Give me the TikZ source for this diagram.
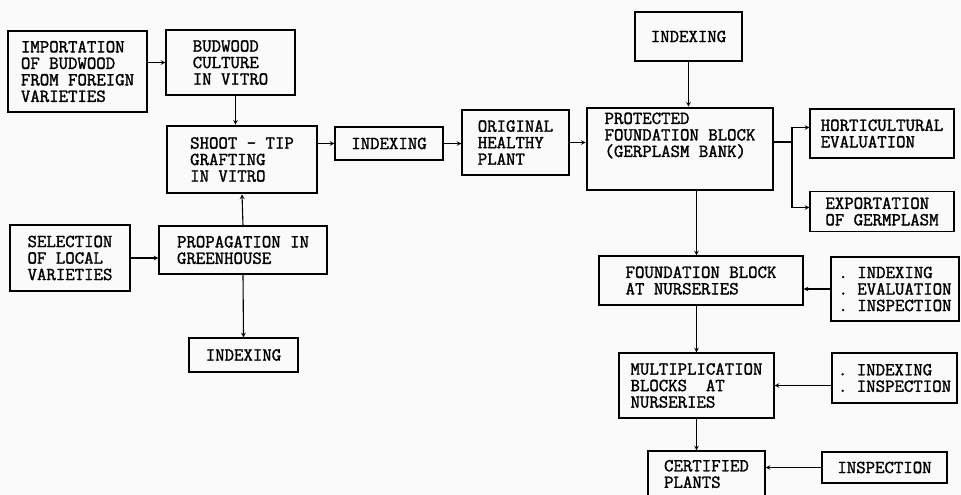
\documentclass[tikz,border=0pt]{standalone}
\usepackage{fontspec}
\setmonofont{Latin Modern Mono}[AutoFakeBold=1.6]
\usepackage{xcolor}

\begin{document}
\begin{tikzpicture}[->,>=stealth,x=1pt,y=-1pt,line width=1.1pt,
    box/.style={draw,align=left,inner sep=0pt,font=\ttfamily\bfseries\fontsize{18.3}{16.5}\selectfont},
    main box/.style={box,line width=2.6pt}]
            \fill[gray!4] (0,0) rectangle (961,495);
            \useasboundingbox (0,0) rectangle (961,495);

            % left part
            \node[box,minimum width=139,minimum height=81] (1) at (77.5,71.5) {IMPORTATION\\OF BUDWOOD\\FROM FOREIGN\\VARIETIES};
            \node[box,minimum width=129,minimum height=65] (2) at (230.5,62.5) {BUDWOOD\\CULTURE\\IN VITRO};
            \node[main box,minimum width=150,minimum height=67] (3) at (242,159.5) {SHOOT - TIP\\GRAFTING\\IN VITRO};
            \node[box,minimum width=120,minimum height=66] (4) at (70,258) {SELECTION\\OF LOCAL\\VARIETIES};
            \node[box,minimum width=168,minimum height=48] (5) at (243,250) {PROPAGATION IN\\GREENHOUSE};
            \node[box,minimum width=109,minimum height=34] (6) at (243.5,355) {INDEXING};

            % middle row
            \node[box,minimum width=108,minimum height=33] (7) at (389,143.5) {INDEXING};
            \node[box,minimum width=107,minimum height=65] (8) at (515.5,142.5) {ORIGINAL\\HEALTHY\\PLANT};
            \node[main box,minimum width=186,minimum height=82] (9) at (680,149) {PROTECTED\\FOUNDATION BLOCK\\(GERPLASM BANK)\\[12pt]};
            \node[box,minimum width=107,minimum height=49] (10) at (688.5,36.5) {INDEXING};
            \node[box,minimum width=144,minimum height=49] (11) at (882,133.5) {HORTICULTURAL\\EVALUATION};
            \node[box,minimum width=144,minimum height=40] (12) at (882,211.5) {EXPORTATION\\OF GERMPLASM};

            % nurseries
            \node[box,minimum width=204,minimum height=49] (13) at (701,280.5) {FOUNDATION BLOCK\\AT NURSERIES};
            \node[box,minimum width=128,minimum height=64] (14) at (895,289) {. INDEXING\\. EVALUATION\\. INSPECTION};
            \node[box,minimum width=155,minimum height=65] (15) at (696.5,385.5) {MULTIPLICATION\\BLOCKS~~AT\\NURSERIES};
            \node[box,minimum width=125,minimum height=50] (16) at (894.5,378) {. INDEXING\\. INSPECTION};
            \node[box,minimum width=117,minimum height=46] (17) at (706.5,474) {CERTIFIED\\PLANTS};
            \node[box,minimum width=125,minimum height=31] (18) at (884.5,467.5) {INSPECTION};

            \coordinate (b) at (792,142);

            \path
                (1.east |- 2.west) edge (2.west)
                ([xshift=5]2.south) edge ([xshift=5]2.south |- 3.north)
                (5.north) edge (3.south)
                (5.south) edge (6.north)
                (4.east) edge (4.east -| 5.west)
                (3.east |- 7.west) edge (7.west)
                (7.east) edge (7.east -| 8.west)
                (8.east) edge (8.east -| 9.west)
                (10.south) edge (10.south |- 9.north)
                (9.south -| 15.north) edge (13.north -| 15.north)
                (14.west) edge (14.west -| 13.east)
                (13.south -| 15.north) edge (15.north)
                (16.west |- 15.east) edge (15.east)
                (15.south) edge (15.south |- 17.north)
                (18.west) edge (18.west -| 17.east)
                ;

            \draw[-] (9.east |- b) -- (b);
            \draw (b) |- ([yshift=6]11.west);
            \draw (b) |- ([yshift=4]12.west);
        \end{tikzpicture}
\end{document}
